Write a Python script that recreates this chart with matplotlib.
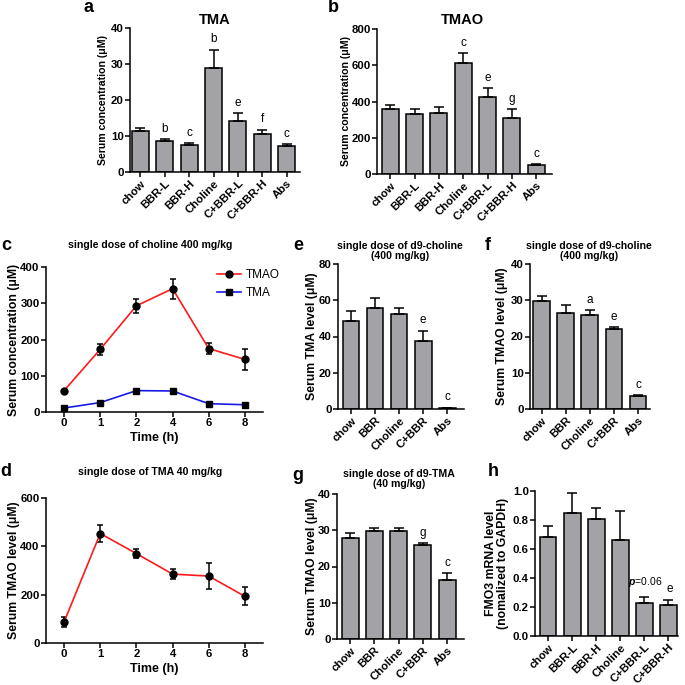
import numpy as np
import matplotlib
matplotlib.use("Agg")
import matplotlib.pyplot as plt
from matplotlib.lines import Line2D

# ---- data ----
groups7 = ['chow', 'BBR-L', 'BBR-H', 'Choline', 'C+BBR-L', 'C+BBR-H', 'Abs']
a_tma = [11.5, 8.7, 7.5, 29.0, 14.3, 10.6, 7.2]
a_tma_err = [0.7, 0.5, 0.5, 5.0, 2.1, 1.2, 0.5]
a_sig = ['', 'b', 'c', 'b', 'e', 'f', 'c']

b_tmao = [357, 332, 337, 612, 425, 309, 48]
b_tmao_err = [21, 26, 31, 55, 47, 48, 9]
b_sig = ['', '', '', 'c', 'e', 'g', 'c']

time_labels = ['0', '1', '2', '4', '6', '8']
c_tmao = [59, 173, 293, 340, 175, 145]
c_tmao_err = [3, 15, 19, 28, 14, 30]
c_tma = [11, 26, 59, 58, 23, 20]
c_tma_err = [2, 3, 3, 6, 3, 2]

d_tmao = [87, 453, 370, 285, 277, 193]
d_tmao_err = [20, 36, 18, 21, 53, 37]

groups5 = ['chow', 'BBR', 'Choline', 'C+BBR', 'Abs']
e_tma = [48.8, 55.6, 52.3, 37.6, 0.6]
e_tma_err = [5.0, 5.5, 3.2, 5.7, 0.2]
e_sig = ['', '', '', 'e', 'c']

f_tmao = [29.8, 26.4, 25.9, 22.0, 3.5]
f_tmao_err = [1.3, 2.4, 1.4, 0.6, 0.4]
f_sig = ['', '', 'a', 'e', 'c']

g_tmao = [28.0, 29.7, 29.9, 25.8, 16.3]
g_tmao_err = [1.3, 0.8, 0.6, 0.6, 1.9]
g_sig = ['', '', '', 'g', 'c']

groups6 = ['chow', 'BBR-L', 'BBR-H', 'Choline', 'C+BBR-L', 'C+BBR-H']
h_fmo3 = [0.684, 0.848, 0.809, 0.659, 0.228, 0.212]
h_fmo3_err = [0.078, 0.14, 0.071, 0.2, 0.042, 0.035]

plt.rcParams['font.family'] = ['Liberation Sans', 'DejaVu Sans']
plt.rcParams['font.weight'] = 'bold'
plt.rcParams['axes.labelweight'] = 'bold'
plt.rcParams['mathtext.fontset'] = 'custom'
plt.rcParams['mathtext.it'] = 'Liberation Sans:italic'
plt.rcParams['mathtext.rm'] = 'Liberation Sans'

W = 685.0
BAR_GRAY = '#a2a2a7'
RED = '#ff1a1a'
BLUE = '#1a1ae6'
LW = 1.1
TICK_FS = 8.2
SUB_FS = 7.6

fig = plt.figure(figsize=(6.85, 6.85), dpi=100)


def make_axes(l, r, t, b):
    # pixel box -> figure fraction
    return fig.add_axes([l / W, 1 - b / W, (r - l) / W, (b - t) / W])


def style(ax, ylabel, label_x, label_fs):
    ax.spines[['top', 'right']].set_visible(False)
    ax.spines[['left', 'bottom']].set_linewidth(LW)
    ax.tick_params(width=LW, length=3.5, labelsize=TICK_FS, pad=1)
    ax.set_ylabel(ylabel, fontsize=label_fs, linespacing=1.0)
    ax.yaxis.set_label_coords(label_x, 0.5)


def bar_panel(ax, labels, means, errs, sig, ylim, yticks, xlim, ylabel, label_x,
              label_fs=8.8):
    x = np.arange(len(labels))
    ax.bar(x, means, width=0.7, color=BAR_GRAY, edgecolor='black',
           linewidth=LW, zorder=2)
    ax.errorbar(x, means, yerr=[np.zeros(len(x)), errs], fmt='none',
                ecolor='black', elinewidth=LW, capsize=3.5, capthick=LW, zorder=3)
    for i, s in enumerate(sig):
        if s:
            ax.annotate(s, (x[i], means[i] + errs[i]), xytext=(0, 3),
                        textcoords='offset points', ha='center', va='bottom',
                        fontsize=8.5, fontweight='normal')
    ax.set_ylim(ylim)
    ax.set_yticks(yticks)
    ax.set_xlim(xlim)
    ax.set_xticks(x, labels, rotation=45, ha='right', rotation_mode='anchor')
    style(ax, ylabel, label_x, label_fs)


def line_panel(ax, ylim, yticks, ylabel):
    ax.set_xlim(-0.5, 5.5)
    ax.set_ylim(ylim)
    ax.set_yticks(yticks)
    ax.set_xticks(np.arange(len(time_labels)), time_labels)
    ax.set_xlabel('Time (h)', fontsize=9, labelpad=3)
    style(ax, ylabel, -0.12, 8.8)


def px_text(x, y, s, **kw):
    fig.text(x / W, 1 - y / W, s, **kw)


line_kw = dict(lw=1.2, ms=5, mfc='black', mec='black', ecolor='black',
               elinewidth=LW, capsize=2.5, capthick=LW, zorder=3)

# a
ax_a = make_axes(130, 300, 28, 172)
bar_panel(ax_a, groups7, a_tma, a_tma_err, a_sig, (0, 40), [0, 10, 20, 30, 40],
          (-0.43, 6.55), 'Serum concentration (\u03bcM)', -0.13, 7.6)
px_text(215, 20, 'TMA', fontsize=10.5, ha='center', va='center')

# b
ax_b = make_axes(377, 552, 29, 174)
bar_panel(ax_b, groups7, b_tmao, b_tmao_err, b_sig, (0, 800), [0, 200, 400, 600, 800],
          (-0.55, 6.65), 'Serum concentration (\u03bcM)', -0.149, 7.6)
px_text(462, 20, 'TMAO', fontsize=10.5, ha='center', va='center')

# c
ax_c = make_axes(46, 263, 267, 412)
x6 = np.arange(len(time_labels))
ax_c.errorbar(x6, c_tmao, yerr=c_tmao_err, color=RED, marker='o', **line_kw)
ax_c.errorbar(x6, c_tma, yerr=c_tma_err, color=BLUE, marker='s', **line_kw)
line_panel(ax_c, (0, 400), [0, 100, 200, 300, 400], 'Serum concentration (\u03bcM)')
handles = [Line2D([], [], color=RED, lw=1.2, marker='o', ms=5, mfc='black', mec='black'),
           Line2D([], [], color=BLUE, lw=1.2, marker='s', ms=5, mfc='black', mec='black')]
ax_c.legend(handles, ['TMAO', 'TMA'], loc='upper left', bbox_to_anchor=(0.74, 1.06),
            frameon=False, handlelength=2.0, handletextpad=0.4, labelspacing=0.5,
            prop={'weight': 'normal', 'size': 8.5})
px_text(150, 245, 'single dose of choline 400 mg/kg', fontsize=SUB_FS,
        ha='center', va='center')

# d
ax_d = make_axes(46, 263, 498, 643)
ax_d.errorbar(x6, d_tmao, yerr=d_tmao_err, color=RED, marker='o', **line_kw)
line_panel(ax_d, (0, 600), [0, 200, 400, 600], 'Serum TMAO level (\u03bcM)')
px_text(150, 472, 'single dose of TMA 40 mg/kg', fontsize=SUB_FS,
        ha='center', va='center')

# e
ax_e = make_axes(338, 464, 264, 409)
bar_panel(ax_e, groups5, e_tma, e_tma_err, e_sig, (0, 80), [0, 20, 40, 60, 80],
          (-0.54, 4.7), 'Serum TMA level (\u03bcM)', -0.159)
px_text(400, 251, 'single dose of d9-choline\n(400 mg/kg)', fontsize=SUB_FS,
        ha='center', va='center', linespacing=1.1)

# f
ax_f = make_axes(530, 650, 264, 409)
bar_panel(ax_f, groups5, f_tmao, f_tmao_err, f_sig, (0, 40), [0, 10, 20, 30, 40],
          (-0.49, 4.5), 'Serum TMAO level (\u03bcM)', -0.183)
px_text(589, 251, 'single dose of d9-choline\n(400 mg/kg)', fontsize=SUB_FS,
        ha='center', va='center', linespacing=1.1)

# g
ax_g = make_axes(337, 464, 494, 639)
bar_panel(ax_g, groups5, g_tmao, g_tmao_err, g_sig, (0, 40), [0, 10, 20, 30, 40],
          (-0.54, 4.7), 'Serum TMAO level (\u03bcM)', -0.15)
px_text(399, 479, 'single dose of d9-TMA\n(40 mg/kg)', fontsize=SUB_FS,
        ha='center', va='center', linespacing=1.1)

# h
ax_h = make_axes(535, 678, 491, 636)
bar_panel(ax_h, groups6, h_fmo3, h_fmo3_err, ['', '', '', '', '', ''], (0, 1.0),
          [0.0, 0.2, 0.4, 0.6, 0.8, 1.0], (-0.54, 5.4),
          'FMO3 mRNA level\n(nomalized to GAPDH)', -0.18)
ax_h.yaxis.set_major_formatter(matplotlib.ticker.FormatStrFormatter('%.1f'))
ax_h.annotate('$p$=0.06', (4, h_fmo3[4] + h_fmo3_err[4]), xytext=(1, 6),
              textcoords='offset points', ha='center', va='bottom',
              fontsize=7.5, fontweight='normal')
ax_h.annotate('e', (5, h_fmo3[5] + h_fmo3_err[5]), xytext=(1, 4),
              textcoords='offset points', ha='center', va='bottom',
              fontsize=8.5, fontweight='normal')

# panel letters
for lx, ly, s in [(88, 8, 'a'), (333, 8, 'b'), (6, 245, 'c'), (6, 472, 'd'),
                  (298, 245, 'e'), (488, 245, 'f'), (298, 475, 'g'), (493, 472, 'h')]:
    px_text(lx, ly, s, fontsize=13, ha='center', va='center')

fig.savefig('out.png', dpi=100)
